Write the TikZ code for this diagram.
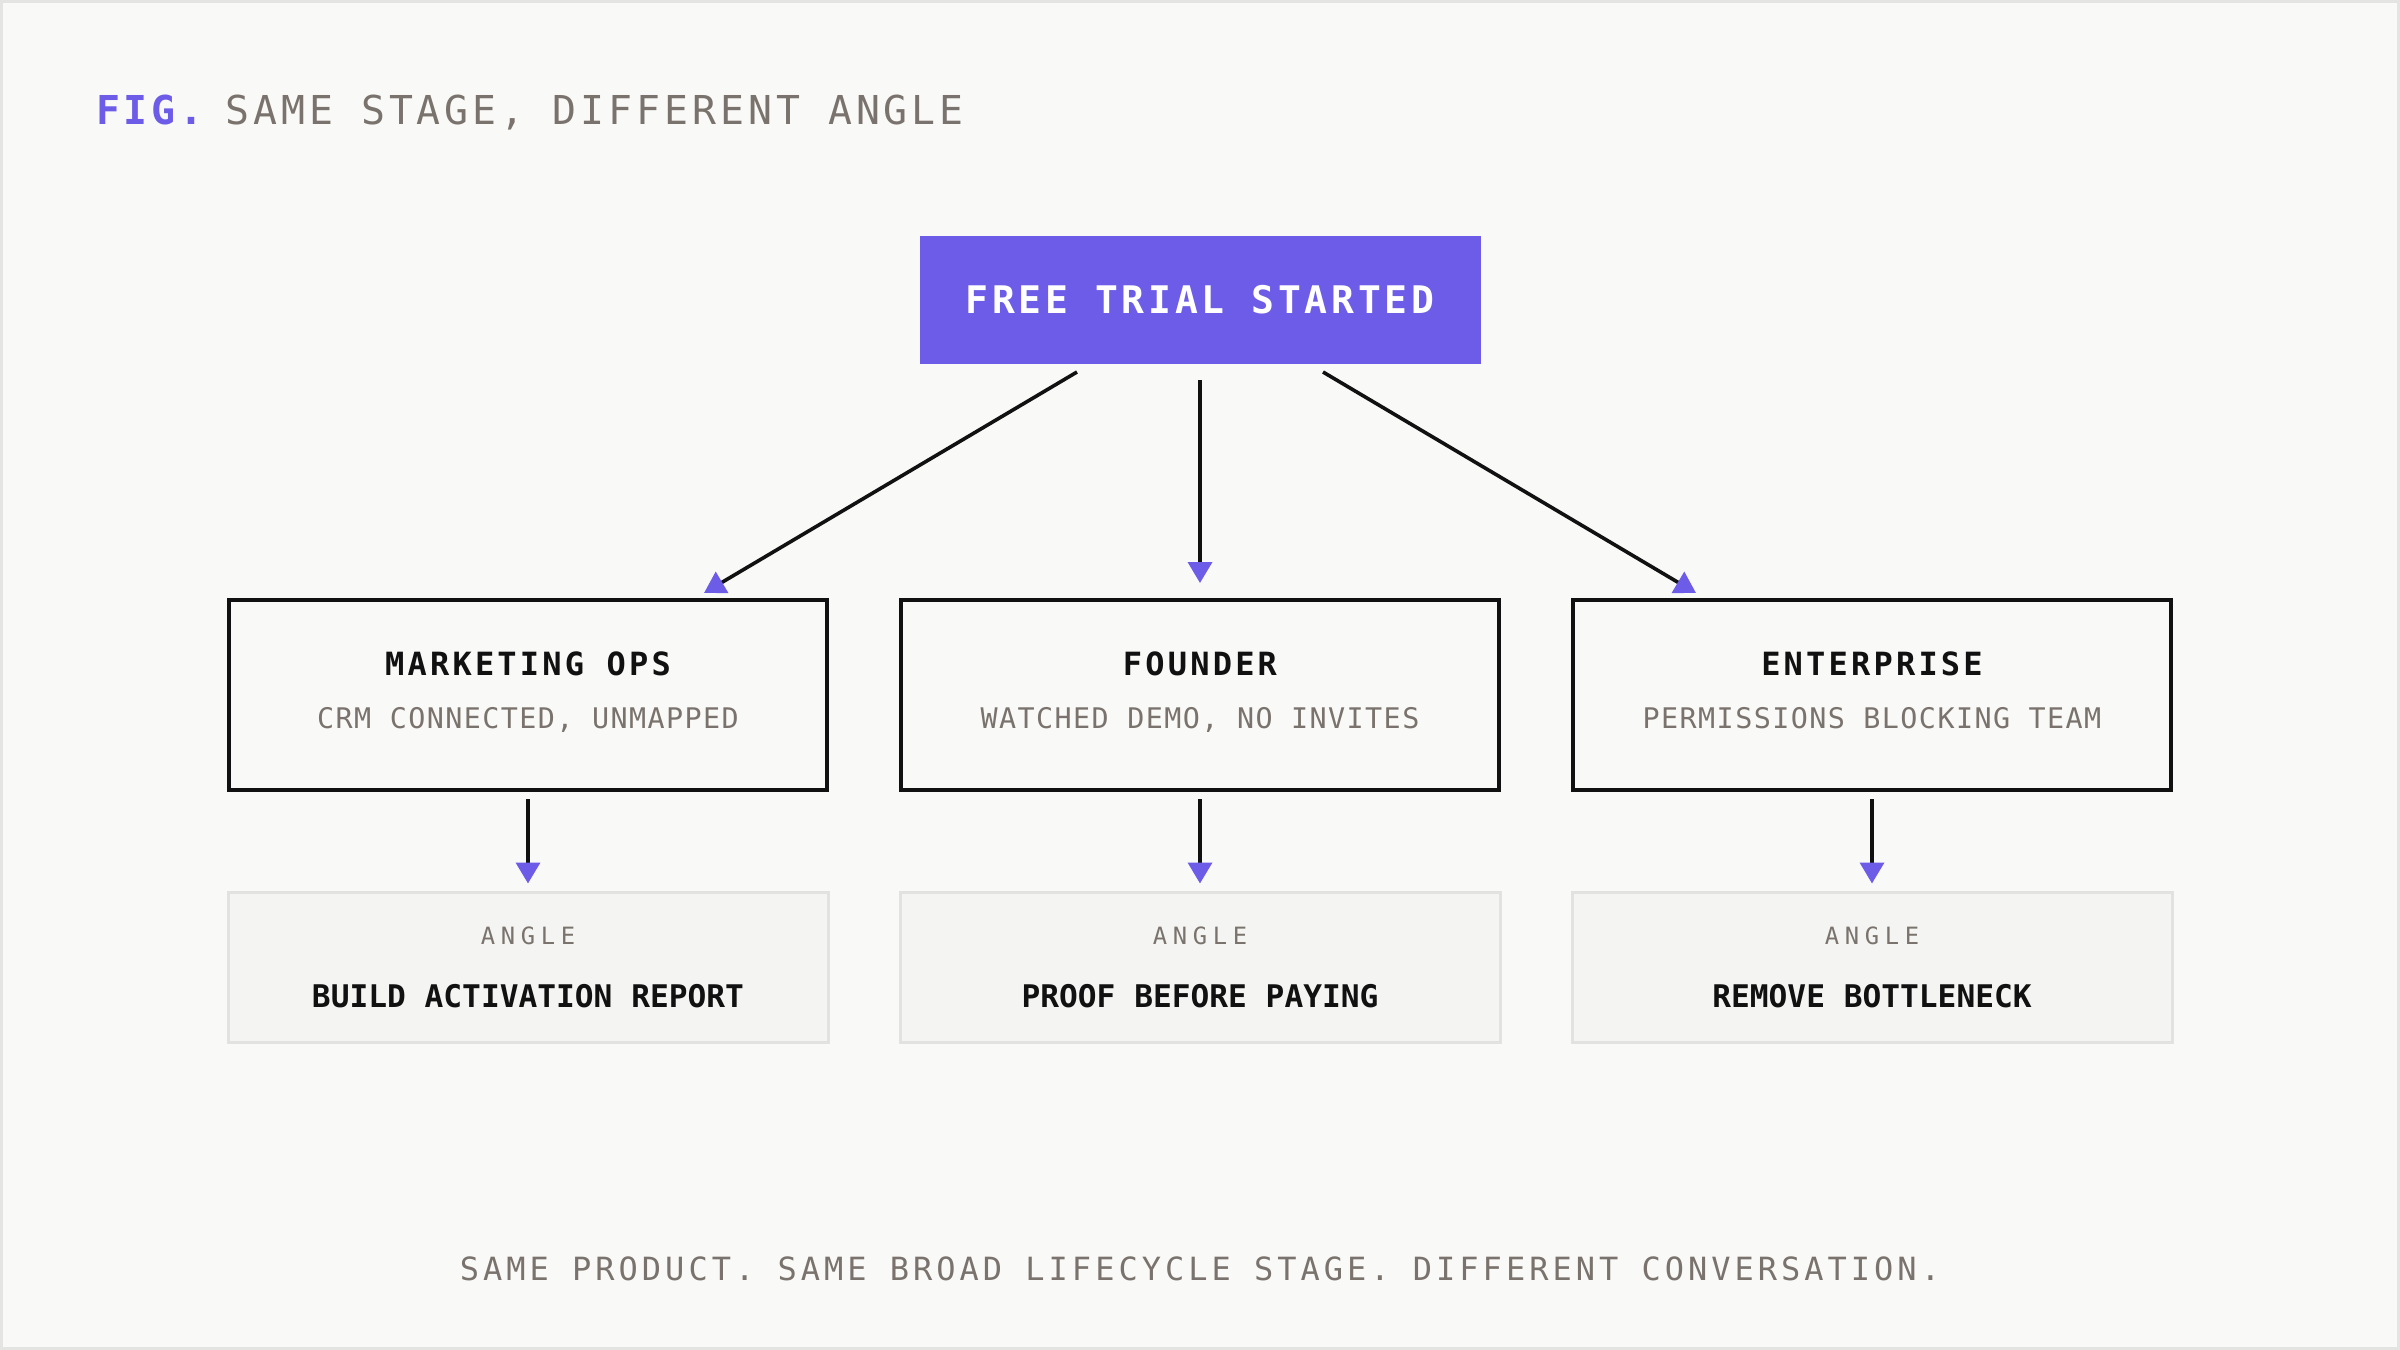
\documentclass[tikz,border=0pt]{standalone}
\usepackage{fontspec}
\usepackage{tikz}
\usetikzlibrary{arrows.meta,calc}
\setmonofont{DejaVu Sans Mono}
\newfontfamily\widefont[LetterSpace=10]{DejaVu Sans Mono}
\newfontfamily\footfont[LetterSpace=12.5]{DejaVu Sans Mono}
\newfontfamily\subfont[LetterSpace=5]{DejaVu Sans Mono}
\newfontfamily\tagfont[LetterSpace=24]{DejaVu Sans Mono}
\newfontfamily\actfont{DejaVu Sans Mono}
\definecolor{cF9F9F7}{RGB}{249,249,247}
\definecolor{cE4E4E2}{RGB}{228,228,226}
\definecolor{c6C5CE7}{RGB}{108,92,231}
\definecolor{c7A736D}{RGB}{122,115,109}
\definecolor{c111111}{RGB}{17,17,17}
\definecolor{cF4F4F2}{RGB}{244,244,242}
\definecolor{cE2E2E0}{RGB}{226,226,224}

\begin{document}
\begin{tikzpicture}[x=0.5pt,y=0.5pt,yscale=-1,inner sep=0pt,outer sep=0pt,
  trialbox/.style={fill=c6C5CE7,minimum width=280.5pt,minimum height=64pt},
  segbox/.style={draw=c111111,line width=2pt,fill=cF9F9F7,minimum width=299pt,minimum height=95pt},
  anglebox/.style={draw=cE2E2E0,line width=1.5pt,fill=cF4F4F2,minimum width=300pt,minimum height=75pt},
  segname/.style={anchor=base,text=c111111,font=\widefont\bfseries\fontsize{16}{19}\selectfont},
  segnote/.style={anchor=base,text=c7A736D,font=\subfont\fontsize{14.2}{17}\selectfont},
  angletag/.style={anchor=base,text=c7A736D,font=\tagfont\fontsize{11.9}{14}\selectfont},
  angletext/.style={anchor=base,text=c111111,font=\actfont\bfseries\fontsize{15.6}{19}\selectfont},
  flow/.style={draw=c111111,line width=1.8pt,-{Triangle[length=10.5pt,width=12pt,color=c6C5CE7]}}]
  % canvas
  \path[fill=cF9F9F7,draw=cE4E4E2,line width=1.5pt] (1.5,1.5) rectangle (2398.5,1348.5);
  \useasboundingbox (0,0) rectangle (2400,1350);

  % heading
  \node[anchor=base west,text=c7A736D,font=\widefont\fontsize{19.9}{24}\selectfont] (fig) at (96,124)
    {{\color{c6C5CE7}\bfseries FIG.}\hspace{10.8pt}SAME STAGE, DIFFERENT ANGLE};

  % stage
  \node[trialbox] (trial) at (1200,300) {};
  \node[anchor=base,text=white,font=\widefont\bfseries\fontsize{19}{23}\selectfont] (triallbl) at (1200,313)
    {FREE TRIAL STARTED};

  % segments
  \node[segbox] (mops) at (528,695) {};
  \node[segbox] (fndr) at (1200,695) {};
  \node[segbox] (ent) at (1872,695) {};
  \node[segname] (mopsname) at (528,675) {MARKETING OPS};
  \node[segnote] (mopsnote) at (528,728) {CRM CONNECTED, UNMAPPED};
  \node[segname] (fndrname) at (1200,675) {FOUNDER};
  \node[segnote] (fndrnote) at (1200,728) {WATCHED DEMO, NO INVITES};
  \node[segname] (entname) at (1872,675) {ENTERPRISE};
  \node[segnote] (entnote) at (1872,728) {PERMISSIONS BLOCKING TEAM};

  % angles
  \node[anglebox] (angA) at (528,967.5) {};
  \node[anglebox] (angB) at (1200,967.5) {};
  \node[anglebox] (angC) at (1872,967.5) {};
  \node[angletag] (tagA) at (528,944) {ANGLE};
  \node[angletext] (actA) at (528,1007) {BUILD ACTIVATION REPORT};
  \node[angletag] (tagB) at (1200,944) {ANGLE};
  \node[angletext] (actB) at (1200,1007) {PROOF BEFORE PAYING};
  \node[angletag] (tagC) at (1872,944) {ANGLE};
  \node[angletext] (actC) at (1872,1007) {REMOVE BOTTLENECK};

  % arrows
  \draw[flow] ($(trial.south)+(-123,8)$) -- ($(mops.north)+(176,-7)$);
  \draw[flow] ($(trial.south)+(0,16)$) -- ($(fndr.north)+(0,-17)$);
  \draw[flow] ($(trial.south)+(123,8)$) -- ($(ent.north)+(-176,-7)$);
  \draw[flow] ($(mops.south)+(0,9)$) -- ($(angA.north)+(0,-9)$);
  \draw[flow] ($(fndr.south)+(0,9)$) -- ($(angB.north)+(0,-9)$);
  \draw[flow] ($(ent.south)+(0,9)$) -- ($(angC.north)+(0,-9)$);

  % footer
  \node[anchor=base,text=c7A736D,font=\footfont\fontsize{16}{19}\selectfont] (foot) at (1200,1280)
    {SAME PRODUCT. SAME BROAD LIFECYCLE STAGE. DIFFERENT CONVERSATION.};
\end{tikzpicture}
\end{document}
